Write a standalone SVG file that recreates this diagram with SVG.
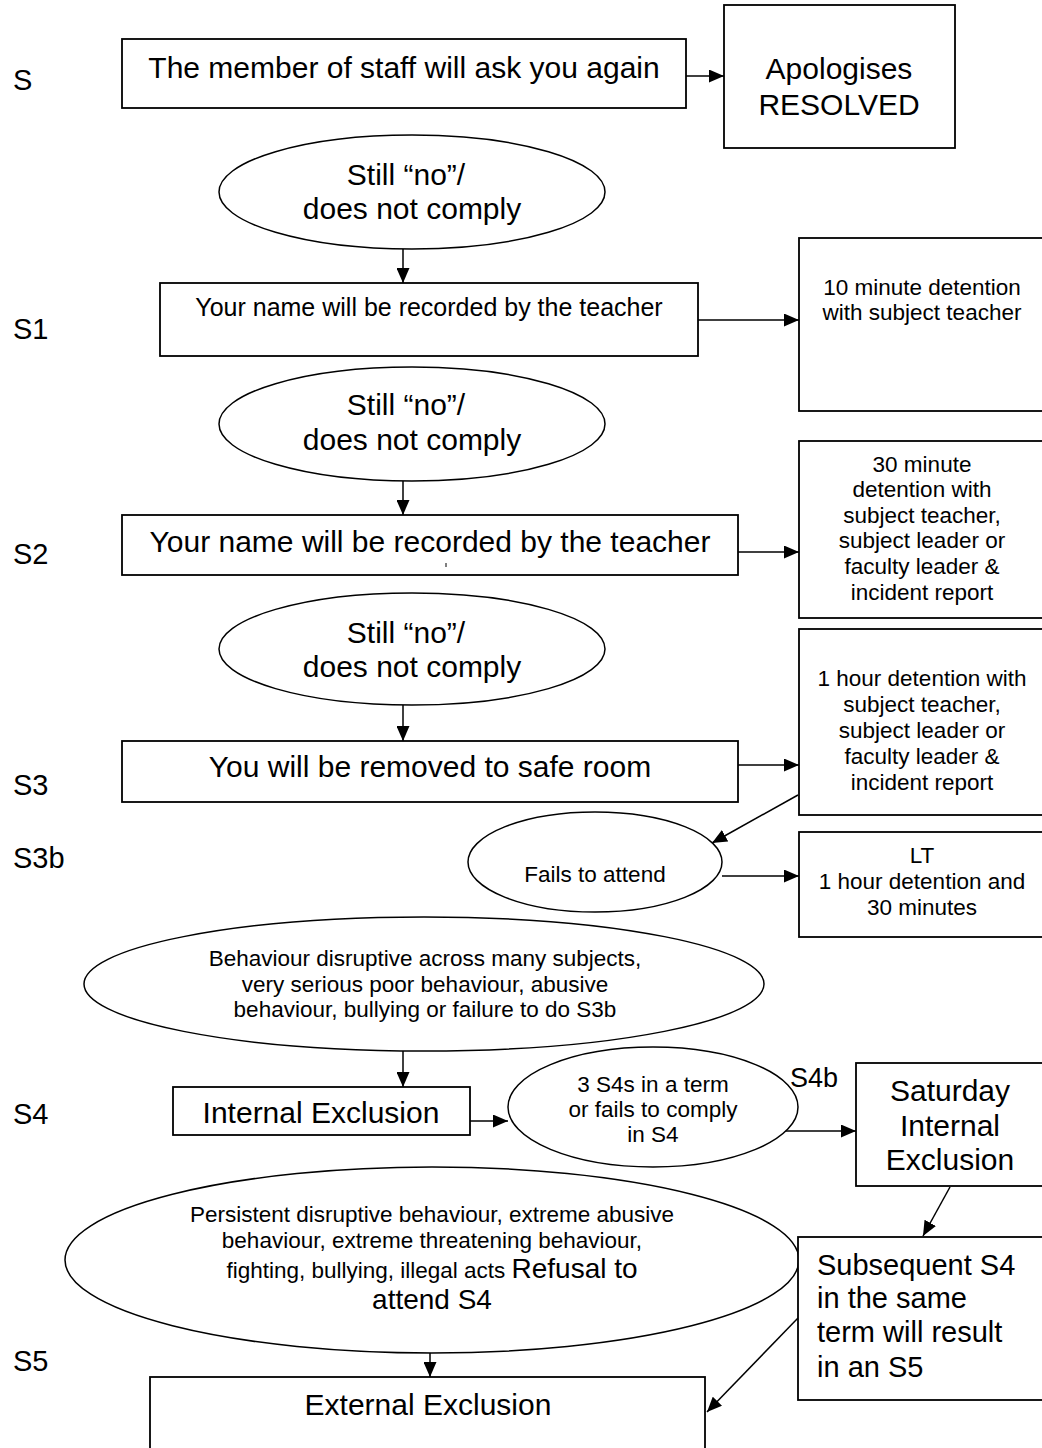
<svg xmlns="http://www.w3.org/2000/svg" width="1042" height="1448" viewBox="0 0 1042 1448">
<defs>
<style>
text{font-family:"Liberation Sans",Arial,sans-serif;fill:#000}
.box{fill:#fff;stroke:#000;stroke-width:1.8}
.ell{fill:#fff;stroke:#000;stroke-width:1.5}
.lbl{font-size:29px}
.big{font-size:30px;text-anchor:middle}
.mid{font-size:25px;text-anchor:middle}
.sm{font-size:22.5px;text-anchor:middle}
.con{stroke:#000;stroke-width:1.5;fill:none;marker-end:url(#ah)}
</style>
<marker id="ah" markerWidth="15" markerHeight="13" refX="15" refY="6.5" orient="auto" markerUnits="userSpaceOnUse"><path d="M0,0 L15,6.5 L0,13 z" fill="#000"/></marker>
<clipPath id="clipS4"><rect x="500" y="1040" width="310" height="103"/></clipPath>
</defs>
<rect width="1042" height="1448" fill="#fff"/>

<g id="stage-labels">
<text class="lbl" x="13" y="90">S</text>
<text class="lbl" x="13" y="339">S1</text>
<text class="lbl" x="13" y="564">S2</text>
<text class="lbl" x="13" y="795">S3</text>
<text class="lbl" x="13" y="868">S3b</text>
<text class="lbl" x="13" y="1124">S4</text>
<text class="lbl" x="13" y="1371">S5</text>
<text class="lbl" x="790" y="1087" style="font-size:27px">S4b</text>
</g>

<g id="connectors">
<line class="con" x1="686" y1="76" x2="724" y2="76"/>
<line class="con" x1="403" y1="249" x2="403" y2="283"/>
<line class="con" x1="698" y1="320" x2="799" y2="320"/>
<line class="con" x1="403" y1="481" x2="403" y2="515"/>
<line class="con" x1="738" y1="552" x2="799" y2="552"/>
<line class="con" x1="403" y1="705" x2="403" y2="741"/>
<line class="con" x1="738" y1="765" x2="799" y2="765"/>
<line class="con" x1="798" y1="795" x2="712" y2="843"/>
<line class="con" x1="722" y1="876" x2="799" y2="876"/>
<line class="con" x1="403" y1="1051" x2="403" y2="1087"/>
<line class="con" x1="470" y1="1121" x2="508" y2="1121"/>
<line class="con" x1="782" y1="1131" x2="856" y2="1131"/>
<line class="con" x1="950" y1="1187" x2="923" y2="1236"/>
<line class="con" x1="430" y1="1353" x2="430" y2="1377"/>
<line class="con" x1="798" y1="1318" x2="707" y2="1412"/>
</g>

<g id="n-ask">
<rect class="box" x="122" y="39" width="564" height="69"/>
<text class="big" x="404" y="78">The member of staff will ask you again</text>
</g>
<g id="n-apologises">
<rect class="box" x="724" y="5" width="231" height="143"/>
<text class="big" x="839" y="79">Apologises</text>
<text class="big" x="839" y="115">RESOLVED</text>
</g>
<g id="n-still1">
<ellipse class="ell" cx="412" cy="192" rx="193" ry="57"/>
<text class="big" x="406" y="185">Still “no”/</text>
<text class="big" x="412" y="219">does not comply</text>
</g>
<g id="n-s1">
<rect class="box" x="160" y="283" width="538" height="73"/>
<text class="mid" x="429" y="316">Your name will be recorded by the teacher</text>
</g>
<g id="n-10min">
<rect class="box" x="799" y="238" width="250" height="173"/>
<text class="sm" x="922" y="295">10 minute detention</text>
<text class="sm" x="922" y="320">with subject teacher</text>
</g>
<g id="n-still2">
<ellipse class="ell" cx="412" cy="424" rx="193" ry="57"/>
<text class="big" x="406" y="415">Still “no”/</text>
<text class="big" x="412" y="450">does not comply</text>
</g>
<g id="n-s2">
<rect class="box" x="122" y="515" width="616" height="60"/>
<text class="big" x="430" y="552">Your name will be recorded by the teacher</text>
<line x1="446" y1="563" x2="446" y2="567" stroke="#000" stroke-width="1"/>
</g>
<g id="n-30min">
<rect class="box" x="799" y="441" width="250" height="177"/>
<text class="sm" x="922" y="472">30 minute</text>
<text class="sm" x="922" y="497">detention with</text>
<text class="sm" x="922" y="523">subject teacher,</text>
<text class="sm" x="922" y="548">subject leader or</text>
<text class="sm" x="922" y="574">faculty leader &amp;</text>
<text class="sm" x="922" y="600">incident report</text>
</g>
<g id="n-still3">
<ellipse class="ell" cx="412" cy="649" rx="193" ry="56"/>
<text class="big" x="406" y="643">Still “no”/</text>
<text class="big" x="412" y="677">does not comply</text>
</g>
<g id="n-s3">
<rect class="box" x="122" y="741" width="616" height="61"/>
<text class="big" x="430" y="777">You will be removed to safe room</text>
</g>
<g id="n-1hour">
<rect class="box" x="799" y="629" width="250" height="186"/>
<text class="sm" x="922" y="686">1 hour detention with</text>
<text class="sm" x="922" y="712">subject teacher,</text>
<text class="sm" x="922" y="738">subject leader or</text>
<text class="sm" x="922" y="764">faculty leader &amp;</text>
<text class="sm" x="922" y="790">incident report</text>
</g>
<g id="n-fails">
<ellipse class="ell" cx="595" cy="862" rx="127" ry="50"/>
<text class="sm" x="595" y="882">Fails to attend</text>
</g>
<g id="n-lt">
<rect class="box" x="799" y="832" width="250" height="105"/>
<text class="sm" x="922" y="863">LT</text>
<text class="sm" x="922" y="889">1 hour detention and</text>
<text class="sm" x="922" y="915">30 minutes</text>
</g>
<g id="n-behaviour">
<ellipse class="ell" cx="424" cy="984" rx="340" ry="67"/>
<text class="sm" x="425" y="966">Behaviour disruptive across many subjects,</text>
<text class="sm" x="425" y="992">very serious poor behaviour, abusive</text>
<text class="sm" x="425" y="1017">behaviour, bullying or failure to do S3b</text>
</g>
<g id="n-internal">
<rect class="box" x="173" y="1087" width="297" height="48"/>
<text class="big" x="321" y="1123">Internal Exclusion</text>
</g>
<g id="n-3s4s">
<ellipse class="ell" cx="653" cy="1107" rx="145" ry="60"/>
<text class="sm" x="653" y="1092">3 S4s in a term</text>
<text class="sm" x="653" y="1117">or fails to comply</text>
<text class="sm" x="653" y="1142" clip-path="url(#clipS4)">in S4</text>
</g>
<g id="n-saturday">
<rect class="box" x="856" y="1063" width="190" height="123"/>
<text class="big" x="950" y="1101">Saturday</text>
<text class="big" x="950" y="1136">Internal</text>
<text class="big" x="950" y="1170">Exclusion</text>
</g>
<g id="n-persistent">
<ellipse class="ell" cx="432" cy="1260" rx="367" ry="93"/>
<text class="sm" x="432" y="1222">Persistent disruptive behaviour, extreme abusive</text>
<text class="sm" x="432" y="1248">behaviour, extreme threatening behaviour,</text>
<text class="sm" x="432" y="1278">fighting, bullying, illegal acts <tspan style="font-size:28px">Refusal to</tspan></text>
<text class="big" x="432" y="1309" style="font-size:28px">attend S4</text>
</g>
<g id="n-subsequent">
<rect class="box" x="798" y="1237" width="250" height="163"/>
<text style="font-size:29px" x="817" y="1275">Subsequent S4</text>
<text style="font-size:29px" x="817" y="1308">in the same</text>
<text style="font-size:29px" x="817" y="1342">term will result</text>
<text style="font-size:29px" x="817" y="1377">in an S5</text>
</g>
<g id="n-external">
<rect class="box" x="150" y="1377" width="555" height="90"/>
<text class="big" x="428" y="1415">External Exclusion</text>
</g>
</svg>
